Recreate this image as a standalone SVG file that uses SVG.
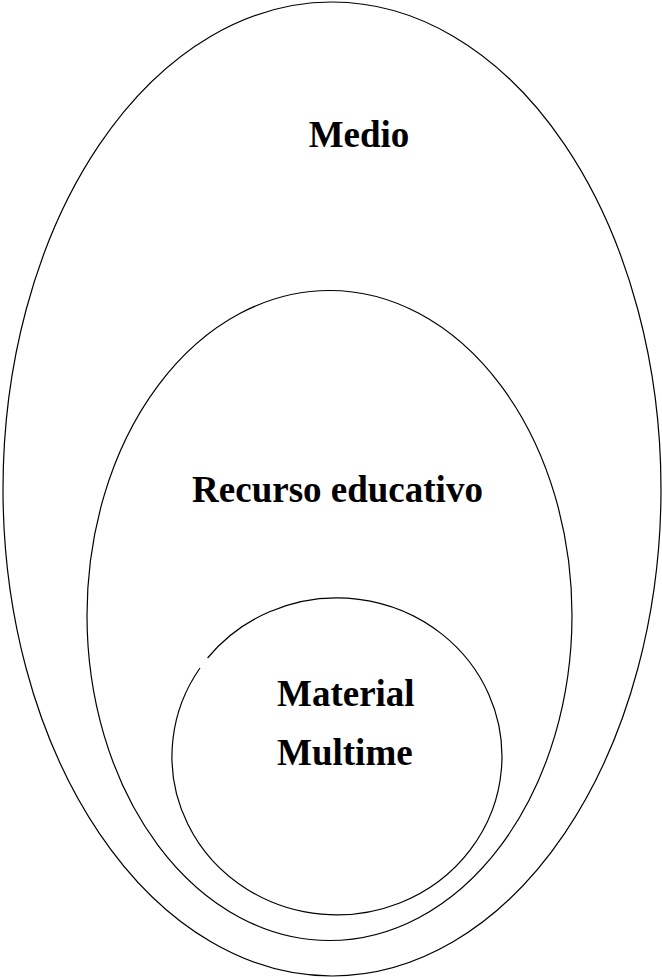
<svg xmlns="http://www.w3.org/2000/svg" width="662" height="978" viewBox="0 0 662 978">
<style>
.ring{fill:none;stroke:#000;stroke-width:1.2}
.lbl{font-family:"Liberation Serif","Times New Roman",serif;font-weight:bold;font-size:37px;fill:#000}
</style>
<rect width="662" height="978" fill="#fff"/>
<g id="medio">
<ellipse class="ring" cx="332" cy="489" rx="329" ry="487"/>
<text class="lbl" x="359" y="146.5" text-anchor="middle">Medio</text>
</g>
<g id="recurso">
<ellipse class="ring" cx="329.5" cy="615.5" rx="242.5" ry="325"/>
<text class="lbl" x="337.5" y="502" text-anchor="middle">Recurso educativo</text>
</g>
<g id="material">
<path class="ring" d="M207.6,658 A165,158.5 0 1 1 200,668"/>
<text class="lbl" x="277" y="705.5">Material</text>
<text class="lbl" x="277" y="765">Multime</text>
</g>
<g id="connectors"></g>
</svg>
